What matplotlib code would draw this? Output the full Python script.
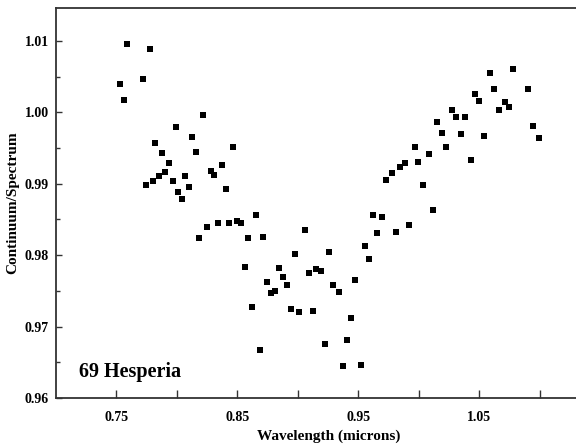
import matplotlib
matplotlib.use("Agg")
import matplotlib.pyplot as plt
from matplotlib.ticker import MultipleLocator, FixedLocator

# wavelength (microns) and continuum/spectrum ratio
wavelength = [
    0.7533, 0.7558, 0.7583, 0.7723, 0.7748, 0.7773, 0.7798, 0.7822, 0.7855, 0.7880,
    0.7905, 0.7930, 0.7963, 0.7988, 0.8012, 0.8045, 0.8070, 0.8103, 0.8128, 0.8161,
    0.8186, 0.8219, 0.8244, 0.8277, 0.8310, 0.8335, 0.8368, 0.8401, 0.8434, 0.8459,
    0.8492, 0.8525, 0.8558, 0.8591, 0.8616, 0.8649, 0.8682, 0.8715, 0.8748, 0.8781,
    0.8814, 0.8847, 0.8880, 0.8913, 0.8946, 0.8979, 0.9012, 0.9054, 0.9087, 0.9120,
    0.9153, 0.9194, 0.9227, 0.9260, 0.9293, 0.9335, 0.9368, 0.9401, 0.9442, 0.9475,
    0.9517, 0.9550, 0.9583, 0.9624, 0.9657, 0.9698, 0.9731, 0.9773, 0.9806, 0.9847,
    0.9888, 0.9921, 0.9963, 0.9996, 1.0037, 1.0079, 1.0112, 1.0153, 1.0194, 1.0227,
    1.0269, 1.0310, 1.0351, 1.0384, 1.0426, 1.0467, 1.0500, 1.0541, 1.0583, 1.0624,
    1.0665, 1.0707, 1.0740, 1.0781, 1.0905, 1.0946, 1.0988,
]
ratio = [
    1.0040, 1.0017, 1.0096, 1.0047, 0.9898, 1.0089, 0.9904, 0.9957, 0.9911, 0.9943,
    0.9917, 0.9929, 0.9904, 0.9980, 0.9889, 0.9879, 0.9911, 0.9896, 0.9966, 0.9945,
    0.9824, 0.9996, 0.9840, 0.9918, 0.9912, 0.9845, 0.9926, 0.9893, 0.9845, 0.9952,
    0.9848, 0.9845, 0.9783, 0.9824, 0.9727, 0.9856, 0.9667, 0.9825, 0.9762, 0.9747,
    0.9750, 0.9782, 0.9769, 0.9758, 0.9725, 0.9802, 0.9720, 0.9835, 0.9775, 0.9722,
    0.9781, 0.9778, 0.9676, 0.9804, 0.9758, 0.9748, 0.9645, 0.9681, 0.9712, 0.9765,
    0.9646, 0.9813, 0.9795, 0.9856, 0.9831, 0.9854, 0.9905, 0.9915, 0.9833, 0.9924,
    0.9929, 0.9842, 0.9952, 0.9931, 0.9898, 0.9942, 0.9863, 0.9987, 0.9971, 0.9952,
    1.0003, 0.9994, 0.9970, 0.9994, 0.9933, 1.0026, 1.0016, 0.9967, 1.0055, 1.0033,
    1.0003, 1.0015, 1.0008, 1.0061, 1.0033, 0.9981, 0.9964,
]

x_major = [0.75, 0.85, 0.95, 1.05]
x_minor = [0.80, 0.90, 1.00, 1.10]
y_ticks = [0.96, 0.97, 0.98, 0.99, 1.00, 1.01]

plt.rcParams['font.family'] = ['Liberation Serif', 'DejaVu Serif']
plt.rcParams['font.weight'] = 'bold'

fig = plt.figure(figsize=(5.76, 4.44), dpi=100)
# right edge of the axes runs past the figure, as in the original crop
ax = fig.add_axes([0.0972, 0.1036, 0.9453, 0.8784])

ax.plot(wavelength, ratio, linestyle='none', marker='s', markersize=4.6,
        color='black', markeredgewidth=0)

ax.set_xlim(0.70, 1.15)
ax.set_ylim(0.96, 1.0146)

ax.xaxis.set_major_locator(FixedLocator(x_major))
ax.xaxis.set_minor_locator(FixedLocator(x_minor))
ax.set_yticks(y_ticks)
ax.yaxis.set_minor_locator(MultipleLocator(0.005))
ax.set_xticklabels([f'{v:.2f}' for v in x_major])
ax.set_yticklabels([f'{v:.2f}' for v in y_ticks])

ax.tick_params(axis='x', which='both', direction='in', length=6, width=1,
               pad=9, labelsize=10, top=False, color='#333333')
ax.tick_params(axis='y', which='major', direction='in', length=4, width=1,
               pad=5, labelsize=10, right=False, color='#333333')
ax.tick_params(axis='y', which='minor', direction='in', length=3, width=1,
               right=False, color='#333333')

for side in ['left', 'bottom', 'top']:
    ax.spines[side].set_linewidth(1.3)
    ax.spines[side].set_color('#333333')
ax.spines['right'].set_visible(False)

ax.set_xlabel('Wavelength (microns)', fontsize=11, fontweight='bold', labelpad=4)
ax.set_ylabel('Continuum/Spectrum', fontsize=11, fontweight='bold', labelpad=4)

ax.text(0.7194, 0.9629, '69 Hesperia', fontsize=14.5, fontweight='bold',
        va='baseline', ha='left')

fig.savefig('out.png', dpi=100)
